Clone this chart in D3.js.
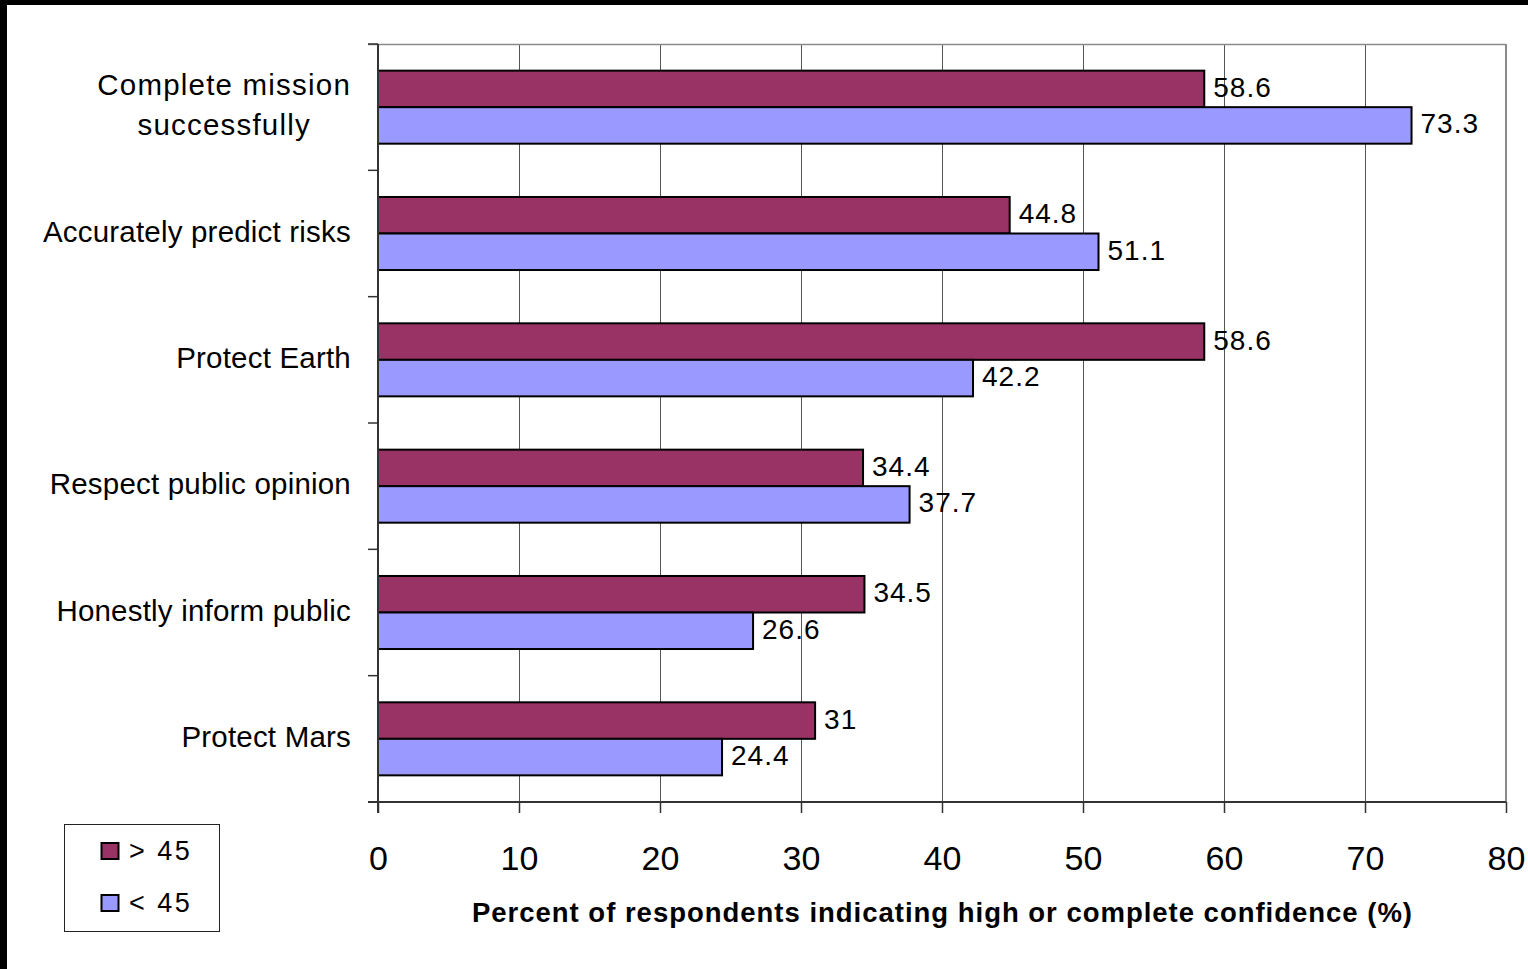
<!DOCTYPE html>
<html>
<head>
<meta charset="utf-8">
<script src="https://cdn.jsdelivr.net/npm/d3@7"></script>
<style>
  html, body { margin: 0; padding: 0; background: #fff; }
  svg { display: block; }
  text { font-family: "Liberation Sans", Arial, sans-serif; fill: #000; }
</style>
</head>
<body>
<svg id="chart" width="1528" height="969"></svg>
<script>
// Survey results: confidence in the mission agency, by respondent age group
const categories = [
  "Complete mission successfully",
  "Accurately predict risks",
  "Protect Earth",
  "Respect public opinion",
  "Honestly inform public",
  "Protect Mars"
];
const seriesNames = ["> 45", "< 45"];
const over45 = [58.6, 44.8, 58.6, 34.4, 34.5, 31];
const under45 = [73.3, 51.1, 42.2, 37.7, 26.6, 24.4];
const xTicks = [0, 10, 20, 30, 40, 50, 60, 70, 80];
const xTitle = "Percent of respondents indicating high or complete confidence (%)";

const colors = ["#993366", "#9999ff"];
const seriesValues = [over45, under45];

const svg = d3.select("#chart");
const W = 1528, H = 969;
const plot = { left: 378, top: 44, right: 1506, bottom: 802 };

svg.append("rect").attr("width", W).attr("height", H).attr("fill", "#fff");

const x = d3.scaleLinear().domain([0, 80]).range([plot.left, plot.right]);
const y = d3.scaleBand().domain(categories).range([plot.top, plot.bottom]);
const ySub = d3.scaleBand().domain(seriesNames).range([0, y.bandwidth()]).paddingOuter(0.73);

// vertical gridlines
svg.append("g")
  .selectAll("line")
  .data(xTicks.filter(t => t > 0 && t < 80))
  .join("line")
  .attr("x1", d => x(d) + 0.5).attr("x2", d => x(d) + 0.5)
  .attr("y1", plot.top).attr("y2", plot.bottom)
  .attr("stroke", "#555").attr("stroke-width", 1);

// plot frame: top and right edges
svg.append("line")
  .attr("x1", plot.left - 10).attr("x2", plot.right)
  .attr("y1", plot.top + 0.5).attr("y2", plot.top + 0.5)
  .attr("stroke", "#8a8a8a").attr("stroke-width", 1.5);
svg.append("line")
  .attr("x1", plot.right).attr("x2", plot.right)
  .attr("y1", plot.top).attr("y2", plot.bottom)
  .attr("stroke", "#8a8a8a").attr("stroke-width", 2);

// bars
const groups = svg.append("g")
  .selectAll("g")
  .data(categories)
  .join("g")
  .attr("transform", d => `translate(0,${y(d)})`);

groups.each(function(cat, i) {
  const g = d3.select(this);
  seriesNames.forEach((s, j) => {
    const v = seriesValues[j][i];
    g.append("rect")
      .attr("x", x(0))
      .attr("y", ySub(s))
      .attr("width", x(v) - x(0))
      .attr("height", ySub.bandwidth())
      .attr("fill", colors[j])
      .attr("stroke", "#000")
      .attr("stroke-width", 2);
    g.append("text")
      .attr("x", x(v) + 9)
      .attr("y", ySub(s) + ySub.bandwidth() / 2 + 8)
      .attr("font-size", 28)
      .attr("letter-spacing", 1)
      .text(v);
  });
});

// x axis
const xAxis = svg.append("g")
  .attr("transform", `translate(0,${plot.bottom})`)
  .call(d3.axisBottom(x).tickValues(xTicks).tickSize(11).tickSizeOuter(0).tickPadding(33));
xAxis.select(".domain").remove();
xAxis.selectAll(".tick line").attr("stroke", "#333").attr("stroke-width", 1.5);
xAxis.selectAll(".tick text")
  .attr("font-size", 34)
  .attr("font-family", "Liberation Sans, Arial, sans-serif")
  .attr("fill", "#000");
svg.append("line")
  .attr("x1", plot.left - 10).attr("x2", plot.right)
  .attr("y1", plot.bottom).attr("y2", plot.bottom)
  .attr("stroke", "#333").attr("stroke-width", 2);

// y axis with ticks between categories
svg.append("line")
  .attr("x1", plot.left).attr("x2", plot.left)
  .attr("y1", plot.top).attr("y2", plot.bottom + 11)
  .attr("stroke", "#333").attr("stroke-width", 2);
svg.append("g")
  .selectAll("line")
  .data(categories.map(c => y(c)).concat([plot.bottom]))
  .join("line")
  .attr("x1", plot.left - 10).attr("x2", plot.left)
  .attr("y1", d => d).attr("y2", d => d)
  .attr("stroke", "#333").attr("stroke-width", 1.5);

// category labels, wrapped and centred within a right-aligned block
const labelRight = 351;
const maxLabelWidth = 330;
const measure = svg.append("text").attr("font-size", 29.5).attr("visibility", "hidden");
function textWidth(s) { measure.text(s); return measure.node().getComputedTextLength(); }
function wrap(label) {
  const words = label.split(" ");
  const lines = [];
  let cur = "";
  words.forEach(w => {
    const trial = cur ? cur + " " + w : w;
    if (cur && textWidth(trial) > maxLabelWidth) { lines.push(cur); cur = w; }
    else cur = trial;
  });
  if (cur) lines.push(cur);
  return lines;
}
const lineHeight = 40;
categories.forEach(cat => {
  const lines = wrap(cat);
  const spacing = lines.length > 1 ? 1.2 : 0.2;
  const blockW = d3.max(lines, ln => textWidth(ln) + ln.length * spacing);
  const cx = labelRight - blockW / 2;
  const cy = y(cat) + y.bandwidth() / 2;
  const t = svg.append("text")
    .attr("font-size", 29.5)
    .attr("letter-spacing", spacing)
    .attr("text-anchor", "middle");
  lines.forEach((ln, k) => {
    t.append("tspan")
      .attr("x", cx)
      .attr("y", cy + 8 + (k - (lines.length - 1) / 2) * lineHeight)
      .text(ln);
  });
});
measure.remove();

// axis title
svg.append("text")
  .attr("x", (plot.left + plot.right) / 2)
  .attr("y", 922)
  .attr("text-anchor", "middle")
  .attr("font-size", 27.5)
  .attr("font-weight", "bold")
  .attr("textLength", 940)
  .attr("lengthAdjust", "spacing")
  .text(xTitle);

// legend
const legend = svg.append("g");
legend.append("rect")
  .attr("x", 64.5).attr("y", 824.5).attr("width", 155).attr("height", 107)
  .attr("fill", "#fff").attr("stroke", "#222").attr("stroke-width", 1);
seriesNames.forEach((s, j) => {
  const top = 843 + j * 52;
  legend.append("rect")
    .attr("x", 101.5).attr("y", top).attr("width", 17).attr("height", 16)
    .attr("fill", colors[j]).attr("stroke", "#000").attr("stroke-width", 2);
  legend.append("text")
    .attr("x", 129).attr("y", top + 16.5)
    .attr("font-size", 27)
    .attr("letter-spacing", 2.5)
    .text(s);
});

// outer frame on top and left edges
svg.append("rect").attr("x", 0).attr("y", 0).attr("width", W).attr("height", 5).attr("fill", "#000");
svg.append("rect").attr("x", 0).attr("y", 0).attr("width", 7).attr("height", H).attr("fill", "#000");
</script>
</body>
</html>
